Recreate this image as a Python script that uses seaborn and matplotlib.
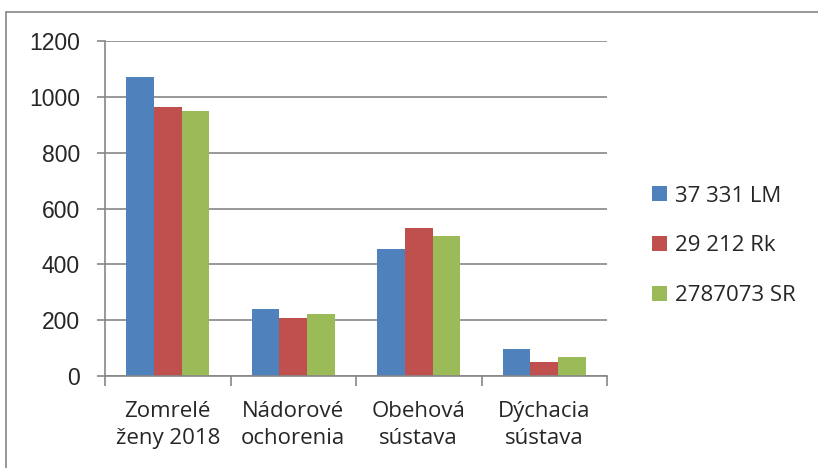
import pandas as pd
import matplotlib
matplotlib.use("Agg")
import matplotlib.pyplot as plt
import seaborn as sns
from matplotlib.lines import Line2D
from matplotlib.patches import Patch

# Chart data
categories = ["Zomrelé\nženy 2018", "Nádorové\nochorenia", "Obehová\nsústava", "Dýchacia\nsústava"]
series = ["37 331 LM", "29 212 Rk", "2787073 SR"]
lm_values = [1072, 240, 455, 97]
rk_values = [964, 209, 530, 51]
sr_values = [950, 221, 502, 69]
colors = ["#4F81BD", "#C0504D", "#9BBB59"]

df = pd.DataFrame({
    "category": categories * 3,
    "series": [series[0]] * 4 + [series[1]] * 4 + [series[2]] * 4,
    "value": lm_values + rk_values + sr_values,
})

sns.set_style("white")
plt.rcParams["font.family"] = ["Liberation Sans", "DejaVu Sans"]

fig = plt.figure(figsize=(8.18, 4.68), dpi=100)
ax = fig.add_axes([105 / 818, 1 - 376 / 468, 502 / 818, 335 / 468])

sns.barplot(data=df, x="category", y="value", hue="series", order=categories,
            hue_order=series, palette=colors, width=0.66, saturation=1,
            edgecolor="none", legend=False, ax=ax)

ax.set_xlim(-0.5, 3.5)
ax.set_ylim(0, 1200)
ax.set_yticks(range(0, 1201, 200))
ax.set_xlabel("")
ax.set_ylabel("")

grid_color = "#868686"
ax.yaxis.grid(True, color=grid_color, linewidth=1.2)
ax.set_axisbelow(True)
for side in ["top", "right"]:
    ax.spines[side].set_visible(False)
for side in ["left", "bottom"]:
    ax.spines[side].set_color(grid_color)
    ax.spines[side].set_linewidth(1.2)

ax.tick_params(axis="y", length=6, width=1.2, color=grid_color, labelsize=16.5, pad=12, left=True)
ax.set_xticks([-0.5, 0.5, 1.5, 2.5, 3.5], minor=True)
ax.tick_params(axis="x", which="minor", length=7, width=1.2, color=grid_color, bottom=True)
ax.set_xticks(range(4))
ax.set_xticklabels(categories, family=["Open Sans", "DejaVu Sans"], fontsize=16, linespacing=1.4)
ax.tick_params(axis="x", which="major", length=0, pad=18)

handles = [Patch(facecolor=c, edgecolor="none") for c in colors]
fig.legend(handles, series, loc="center left", bbox_to_anchor=(632 / 818, 1 - 246 / 468),
           frameon=False, prop={"family": ["Open Sans", "DejaVu Sans"], "size": 16},
           handlelength=0.68, handleheight=0.68, handletextpad=0.35, labelspacing=1.3)

# outer chart frame: only top and left edges are visible in the picture
fig.add_artist(Line2D([6 / 818, 6 / 818], [0, 1 - 12 / 468], transform=fig.transFigure,
                      color=grid_color, linewidth=1.2))
fig.add_artist(Line2D([6 / 818, 1], [1 - 12 / 468, 1 - 12 / 468], transform=fig.transFigure,
                      color=grid_color, linewidth=1.2))

fig.savefig("out.png", dpi=100)
